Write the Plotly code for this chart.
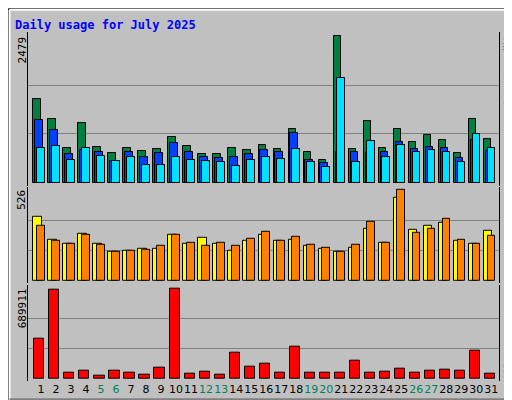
import plotly.graph_objects as go

days = list(range(1, 32))
hits = [1423,1081,594,1014,611,493,594,543,577,778,627,476,476,594,560,644,577,913,510,375,2479,577,1047,594,913,694,812,728,493,1081,745]
files = [1064,896,476,560,510,358,526,426,493,678,510,426,409,442,476,560,526,846,375,325,526,510,526,510,694,577,611,594,409,728,543]
pages = [594,627,375,594,459,358,426,291,291,426,375,358,342,274,375,426,392,577,342,258,1770,342,711,426,644,510,560,526,342,829,594]
visits = [372,240,212,274,212,166,172,183,183,269,217,252,212,172,234,269,229,240,200,183,166,189,303,223,480,297,320,337,229,212,292]
sites = [320,229,217,269,206,166,172,177,200,269,223,200,223,200,246,286,229,257,206,189,166,206,343,223,526,280,303,360,240,212,263]
kbytes = [312000,682000,48000,63000,25000,63000,48000,33000,86000,689911,40000,55000,33000,199000,93000,116000,48000,244000,48000,48000,48000,138000,48000,55000,78000,48000,63000,70000,63000,214000,40000]
weekends = [5, 6, 12, 13, 19, 20, 26, 27]

W, H = 512, 400
L, R, T, B = 20, 21, 24, 22
PW, PH = W - L - R, H - T - B
def xp(px): return (px - L) / PW
def yp(py): return (H - B - py) / PH

fig = go.Figure()
line = dict(color="black", width=1)
def bar(y, color, off, w, ya, name):
    fig.add_trace(go.Bar(x=days, y=y, marker=dict(color=color, line=line),
                         offset=off, width=w, yaxis=ya, xaxis="x", name=name))
bar(hits, "#008040", -0.51, 0.49, "y3", "Hits")
bar(files, "#0040FF", -0.38, 0.49, "y3", "Files")
bar(pages, "#00E0FF", -0.25, 0.49, "y3", "Pages")
bar(visits, "#FFFF00", -0.51, 0.55, "y2", "Visits")
bar(sites, "#FF8000", -0.25, 0.49, "y2", "Sites")
bar(kbytes, "#FF0000", -0.44, 0.67, "y", "kB")

ticktext = [f'<span style="color:#00805C">{d}</span>' if d in weekends else str(d) for d in days]
ax = dict(showline=True, linecolor="black", mirror=True, zeroline=False,
          showticklabels=False, gridcolor="#808080", gridwidth=1, ticks="")
fig.update_layout(
    width=W, height=H, margin=dict(l=L, r=R, t=T, b=B),
    paper_bgcolor="#C0C0C0", plot_bgcolor="#C0C0C0",
    barmode="overlay", showlegend=False, bargap=0,
    font=dict(family="DejaVu Sans Mono", size=11, color="black"),
    xaxis=dict(range=[0.133, 31.513], tickvals=days, ticktext=ticktext, showgrid=False, tickangle=0,
               showline=False, zeroline=False, ticks="", tickfont=dict(family="DejaVu Sans", size=11)),
    yaxis=dict(domain=[0, yp(280.3)], range=[-15100, 720600], tickvals=[230000, 460000], **ax),
    yaxis2=dict(domain=[yp(278.3), yp(181)], range=[-11.4, 545], tickvals=[175, 351], **ax),
    yaxis3=dict(domain=[yp(179.7), 1], range=[-50, 2554], tickvals=[826, 1653], **ax),
)

ann = []
def A(text, px, py, xa="center", ya="top", size=11, angle=-90, color="black"):
    ann.append(dict(text=text, x=xp(px), y=yp(py), xref="paper", yref="paper",
                    xanchor=xa, yanchor=ya, showarrow=False, textangle=angle,
                    font=dict(size=size, family="DejaVu Sans Mono", color=color)))
A('<b>Daily usage for July 2025</b>', 5, 8, xa="left", angle=0, size=12, color="#0000FF")
A("2479", 14, 27)
A("526", 14, 182)
A("689911", 14, 282)

CW = 4.6
def vlabel(segs, top=None, bottom=None):
    total = sum(len(t) for t, _ in segs) * CW
    b = bottom if bottom is not None else top + total
    for t, c in segs:
        A(t, 500, b, ya="bottom", size=8, color=c)
        b -= len(t) * CW
vlabel([("Pages", "#00E0FF"), ("/", "#000000"), ("Files", "#0040FF"), ("/", "#000000"), ("Hits", "#008040")], top=27)
vlabel([("Sites", "#FF8000"), ("/", "#000000"), ("Visits", "#FFFF00")], top=181)
vlabel([("kB", "#FF0000"), ("F", "#FF0000")], bottom=377)
fig.update_layout(annotations=ann)

shapes = [
    dict(type="rect", xref="paper", yref="paper", x0=xp(0.5), x1=xp(511.5), y0=yp(399.5), y1=yp(0.5),
         line=dict(color="black", width=1)),
    dict(type="line", xref="paper", yref="paper", x0=xp(1.5), x1=xp(510.5), y0=yp(1.5), y1=yp(1.5), line=dict(color="white", width=2)),
    dict(type="line", xref="paper", yref="paper", x0=xp(1.5), x1=xp(1.5), y0=yp(1.5), y1=yp(398.5), line=dict(color="white", width=2)),
    dict(type="line", xref="paper", yref="paper", x0=xp(1.5), x1=xp(510.5), y0=yp(397.5), y1=yp(397.5), line=dict(color="#808080", width=4)),
    dict(type="line", xref="paper", yref="paper", x0=xp(509.5), x1=xp(509.5), y0=yp(1.5), y1=yp(398.5), line=dict(color="#808080", width=4)),
]
fig.update_layout(shapes=shapes)
fig.write_html("out.html")
